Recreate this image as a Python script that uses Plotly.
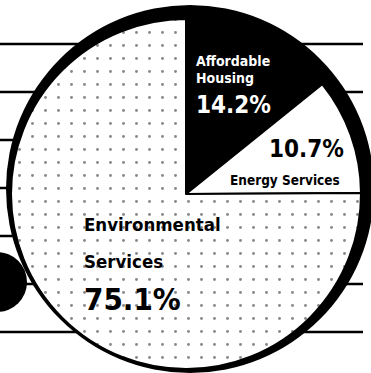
import plotly.graph_objects as go

# ---- data ----
labels = ["Affordable Housing", "Energy Services", "Environmental Services"]
values = [14.2, 10.7, 75.1]
slice_colors = ["#000000", "#ffffff", "#fcfcfc"]

W, H = 371, 373

def px(x):
    return x / W

def py(y):
    return 1 - y / H

# pie geometry (pixels)
cx, cy, r = 186, 194, 175

fig = go.Figure()
fig.add_trace(go.Pie(
    labels=labels, values=values, sort=False, direction="clockwise", rotation=0,
    marker=dict(colors=slice_colors, line=dict(color="#000000", width=2),
                pattern=dict(shape=["", "", "."], fgcolor="#8a8a8a", size=13, solidity=0.04)),
    textinfo="none", hoverinfo="label+percent", showlegend=False,
    domain=dict(x=[px(cx - r), px(cx + r)], y=[py(cy + r), py(cy - r)]),
))

shapes = []
# decorative horizontal rules
for yy in [44, 92, 140, 188, 236, 284, 332]:
    shapes.append(dict(type="line", xref="paper", yref="paper", layer="below",
                       x0=px(0), x1=px(363), y0=py(yy), y1=py(yy),
                       line=dict(color="#000", width=2.5)))
# black shadow disc behind pie
ox, oy, R = 190, 189, 184
shapes.append(dict(type="circle", xref="paper", yref="paper", layer="below",
                   x0=px(ox - R), x1=px(ox + R), y0=py(oy + R), y1=py(oy - R),
                   fillcolor="#000", line=dict(width=0)))
# small black circle at left
bx, by, br = -3, 282, 30
shapes.append(dict(type="circle", xref="paper", yref="paper", layer="below",
                   x0=px(bx - br), x1=px(bx + br), y0=py(by + br), y1=py(by - br),
                   fillcolor="#000", line=dict(width=0)))

FONT = "'DejaVu Sans Condensed', 'Roboto Condensed', Roboto, 'DejaVu Sans', sans-serif"

def ann(text, x, y, size, color, xanchor="left"):
    return dict(text="<b>" + text + "</b>", xref="paper", yref="paper",
                x=px(x), y=py(y), xanchor=xanchor, yanchor="middle", showarrow=False,
                font=dict(family=FONT, size=size, color=color))

annotations = [
    ann("Affordable", 194, 61, 14, "#fff"),
    ann("Housing", 194, 78, 14, "#fff"),
    ann("14.2%", 194, 105, 24, "#fff"),
    ann("10.7%", 346, 149, 24, "#000", "right"),
    ann("Energy Services", 342, 180, 13.5, "#000", "right"),
    ann("Environmental", 82, 225, 18.5, "#000"),
    ann("Services", 82, 261, 18.5, "#000"),
    ann("75.1%", 82, 299, 31, "#000"),
]

fig.update_layout(width=W, height=H, margin=dict(l=0, r=0, t=0, b=0),
                  paper_bgcolor="#fff", plot_bgcolor="#fff",
                  shapes=shapes, annotations=annotations, showlegend=False)
fig.write_html("out.html")
